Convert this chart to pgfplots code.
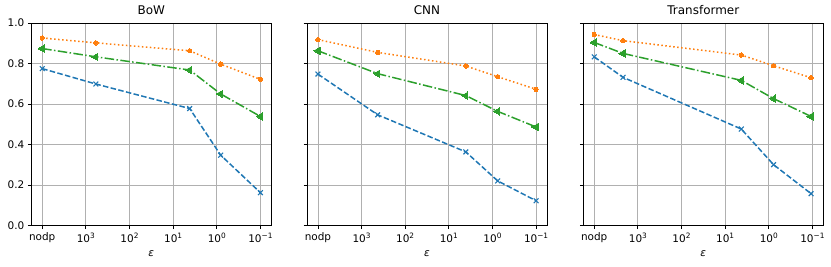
\documentclass[border=0pt]{standalone}
\usepackage{pgfplots}
\pgfplotsset{compat=1.18}
\usepackage{fontspec}
\setmainfont{DejaVu Sans}
\definecolor{tabblue}{HTML}{1F77B4}
\definecolor{taborange}{HTML}{FF7F0E}
\definecolor{tabgreen}{HTML}{2CA02C}
\newcommand{\tp}[1]{10\raisebox{0.42em}{\fontsize{7.4}{8}\selectfont #1}}
\pgfplotsset{
  myaxis/.style={
    scale only axis, width=240bp, height=202.7bp,
    xmin=-4.25, xmax=1.25, ymin=0, ymax=1,
    xtick={-4,-3,-2,-1,0,1},
    xticklabels={nodp,\tp{3},\tp{2},\tp{1},\tp{0},\tp{−1}},
    ytick={0,0.2,0.4,0.6,0.8,1.0},
    grid=major, major grid style={color=black!31, line width=0.8bp},
    tick align=outside, tick pos=left,
    major tick length=3.5bp,
    every tick/.style={black, line width=0.8bp},
    axis line style={line width=0.8bp},
    tick label style={font=\fontsize{10.5}{12}\selectfont},
    /pgf/number format/assume math mode=true,
    yticklabel style={/pgf/number format/fixed, /pgf/number format/fixed zerofill, /pgf/number format/precision=1},
    xlabel={\itshape ε},
    xlabel style={font=\fontsize{10.5}{12}\selectfont, yshift=-1bp},
    title style={font=\fontsize{12}{14}\selectfont, yshift=-1bp},
    clip=false,
  },
  blueline/.style={tabblue, line width=1.5bp, dash pattern=on 5.5bp off 2.4bp, mark=x, mark size=3.4bp, mark options={solid, line width=1.1bp}},
  orangeline/.style={taborange, line width=1.5bp, dash pattern=on 1.5bp off 2.5bp, mark=*, mark size=2.2bp, mark options={solid, draw=taborange, fill=taborange, line width=0bp}},
  greenline/.style={tabgreen, line width=1.5bp, dash pattern=on 9.5bp off 2.4bp on 1.5bp off 2.4bp, mark=triangle*, mark size=4.2bp, mark options={solid, rotate=90, fill=tabgreen, draw=tabgreen, line width=0bp}},
}
\begin{document}
\begin{tikzpicture}
\path[use as bounding box] (0,0) rectangle (831bp,267bp);
\begin{axis}[myaxis, at={(31.3bp,41.3bp)}, anchor=south west, title={BoW}]
\addplot[orangeline] coordinates {(-4,0.926) (-2.77,0.902) (-0.62,0.863) (0.09,0.797) (1,0.722)};
\addplot[greenline] coordinates {(-4,0.874) (-2.77,0.833) (-0.62,0.768) (0.09,0.650) (1,0.539)};
\addplot[blueline] coordinates {(-4,0.775) (-2.77,0.699) (-0.62,0.578) (0.09,0.348) (1,0.163)};
\end{axis}
\begin{axis}[myaxis, at={(307bp,41.3bp)}, anchor=south west, title={CNN}, yticklabels={}]
\addplot[orangeline] coordinates {(-4,0.918) (-2.63,0.855) (-0.61,0.788) (0.12,0.735) (1,0.673)};
\addplot[greenline] coordinates {(-4,0.863) (-2.63,0.750) (-0.61,0.642) (0.12,0.564) (1,0.487)};
\addplot[blueline] coordinates {(-4,0.748) (-2.63,0.547) (-0.61,0.364) (0.12,0.221) (1,0.123)};
\end{axis}
\begin{axis}[myaxis, at={(583.3bp,41.3bp)}, anchor=south west, title={Transformer}, yticklabels={}]
\addplot[orangeline] coordinates {(-4,0.943) (-3.34,0.913) (-0.63,0.842) (0.11,0.789) (0.97,0.730)};
\addplot[greenline] coordinates {(-4,0.904) (-3.34,0.850) (-0.63,0.717) (0.11,0.627) (0.97,0.539)};
\addplot[blueline] coordinates {(-4,0.833) (-3.34,0.732) (-0.63,0.477) (0.11,0.301) (0.97,0.158)};
\end{axis}
\end{tikzpicture}
\end{document}
